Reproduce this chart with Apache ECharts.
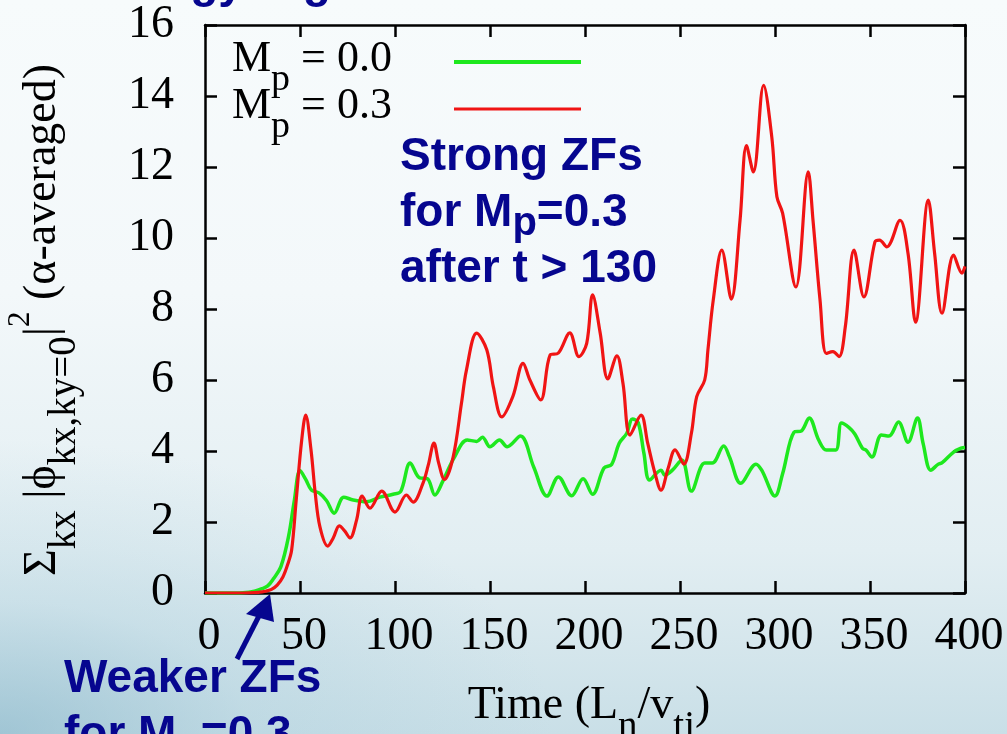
<!DOCTYPE html>
<html>
<head>
<meta charset="utf-8">
<script src="https://cdn.jsdelivr.net/npm/echarts@6/dist/echarts.min.js"></script>
<style>
  html, body { margin: 0; padding: 0; }
  #chart {
    width: 1007px; height: 734px;
    background:
      radial-gradient(ellipse 55% 40% at 0% 100%, rgba(120,172,194,0.50) 0%, rgba(160,200,216,0.28) 45%, rgba(255,255,255,0) 100%),
      linear-gradient(to bottom, #f7fbfc 0%, #f3f8fa 40%, #e2eef2 75%, #c9dfe7 100%);
  }
</style>
</head>
<body>
<div id="chart"></div>
<script>
// Zonal-flow energy vs time for two values of M_p
const timeMp00 = [0, 10, 20, 26, 30, 33, 36, 40, 44, 47, 50, 53, 56, 60, 64, 68, 73, 78, 85, 92, 99, 103, 108, 113, 117, 121, 125, 131, 138, 143, 146, 150, 155, 159, 166, 173, 180, 186, 193, 199, 204, 210, 214, 218, 222, 225, 228, 231, 234, 240, 242, 246, 251, 256, 263, 267, 273, 276, 282, 290, 293, 300, 304, 310, 314, 318, 323, 327, 332, 335, 339, 342, 346, 348, 351, 356, 360, 365, 370, 375, 378, 382, 386, 388, 394, 398, 400];
const energyMp00 = [0, 0, 0.01, 0.05, 0.12, 0.2, 0.4, 0.75, 1.6, 2.6, 3.45, 3.2, 2.9, 2.82, 2.6, 2.25, 2.7, 2.62, 2.57, 2.7, 2.78, 2.86, 3.66, 3.24, 3.22, 2.76, 3.13, 3.8, 4.31, 4.27, 4.39, 4.12, 4.31, 4.12, 4.42, 3.55, 2.73, 3.27, 2.74, 3.22, 2.78, 3.52, 3.62, 4.22, 4.5, 4.9, 4.8, 3.94, 3.18, 3.46, 3.32, 3.46, 3.75, 2.87, 3.66, 3.66, 4.14, 3.84, 3.09, 3.63, 3.46, 2.73, 3.36, 4.53, 4.57, 4.93, 4.31, 4.03, 4.03, 4.79, 4.66, 4.48, 4.08, 4.02, 3.83, 4.45, 4.42, 4.82, 4.25, 4.93, 4.2, 3.46, 3.63, 3.67, 3.97, 4.08, 4.1];

const timeMp03 = [0, 10, 20, 28, 32, 35, 38, 41, 43.5, 45.6, 48, 50.9, 53, 55.8, 58, 60.5, 64.6, 67.5, 70.7, 73.5, 76.3, 79.8, 82.7, 86.8, 93, 100, 106, 109.5, 114.7, 117.5, 120.5, 123, 126, 130.6, 135, 137.6, 143, 148.3, 151.8, 156.2, 162, 167.4, 171, 176.7, 181.6, 186, 192, 196.8, 200.9, 204, 208, 212, 216.8, 220, 223.7, 229.5, 233, 236.8, 240, 243.8, 247.4, 252, 256, 258.8, 263, 264.7, 267.5, 272, 277, 281.6, 285, 288.6, 294, 298.3, 301, 304, 311, 317.5, 320, 323.7, 327, 330.5, 333.7, 337, 341.6, 346.8, 352.6, 355, 358.8, 365.8, 370, 374, 380.7, 384, 387.9, 394, 398.4, 400];
const energyMp03 = [0, 0, 0, 0.02, 0.05, 0.1, 0.22, 0.45, 0.8, 1.21, 2.62, 4.31, 5.01, 4.03, 2.82, 1.86, 1.32, 1.55, 1.89, 1.75, 1.55, 2.06, 2.73, 2.39, 2.87, 2.28, 2.76, 2.56, 3.09, 3.6, 4.22, 3.66, 3.2, 3.83, 5.35, 6.28, 7.32, 6.85, 5.8, 4.96, 5.53, 6.47, 6.0, 5.44, 6.7, 6.76, 7.33, 6.66, 7.03, 8.4, 7.32, 6.03, 6.68, 5.9, 4.45, 5.01, 4.22, 3.38, 2.9, 3.52, 4.03, 3.63, 4.5, 5.53, 6.0, 6.85, 8.25, 9.66, 8.28, 10.5, 12.6, 11.86, 14.3, 12.85, 11.16, 10.7, 8.62, 11.86, 10.5, 8.25, 6.75, 6.8, 6.66, 7.5, 9.66, 8.34, 9.89, 9.94, 9.75, 10.5, 9.57, 7.63, 11.07, 9.57, 7.88, 9.52, 9.01, 9.2];

const legendValues = ['0.0', '0.3'];
const seriesColors = ['#1ee81e', '#f01414'];

const SERIF = 'Liberation Serif, Times New Roman, serif';
const SANS = 'Liberation Sans, Arial, sans-serif';
const NAVY = '#06068f';

const zip = (t, v) => t.map((x, i) => [x, v[i]]);

const chart = echarts.init(document.getElementById('chart'), null, { renderer: 'canvas' });

const frameLine = { show: true, onZero: false, lineStyle: { color: '#000', width: 2.5 } };
const innerTick = { show: true, inside: true, length: 12, lineStyle: { color: '#000', width: 2.5 } };
const tickFont = { fontFamily: SERIF, fontSize: 46, color: '#000' };

// subscript / superscript helpers for rich text
const serifRich = {
  m: { fontFamily: SERIF, fontSize: 46, lineHeight: 54, fill: '#000', color: '#000' },
  s: { fontFamily: SERIF, fontSize: 39, height: 10, lineHeight: 10, verticalAlign: 'bottom', fill: '#000', color: '#000' },
  u: { fontFamily: SERIF, fontSize: 31, height: 10, lineHeight: 10, verticalAlign: 'top', fill: '#000', color: '#000' }
};
const legendRich = {
  m: { fontFamily: SERIF, fontSize: 44, lineHeight: 52, fill: '#000', color: '#000' },
  s: { fontFamily: SERIF, fontSize: 38, height: 10, lineHeight: 10, verticalAlign: 'bottom', fill: '#000', color: '#000' }
};
const sansRich = {
  b: { fontFamily: SANS, fontWeight: 'bold', fontSize: 46, lineHeight: 56, fill: NAVY, color: NAVY },
  bs: { fontFamily: SANS, fontWeight: 'bold', fontSize: 40, height: 34, lineHeight: 34, verticalAlign: 'bottom', fill: NAVY, color: NAVY }
};

const option = {
  animation: false,
  backgroundColor: 'transparent',
  grid: { left: 205, right: 42, top: 25, bottom: 141, containLabel: false },
  xAxis: [
    {
      type: 'value', position: 'bottom', min: 0, max: 400, interval: 50,
      axisLine: frameLine, axisTick: innerTick, splitLine: { show: false },
      axisLabel: Object.assign({ margin: 21, padding: [0, 0, 0, 8] }, tickFont)
    },
    {
      type: 'value', position: 'top', min: 0, max: 400, interval: 50,
      axisLine: frameLine, axisTick: innerTick, splitLine: { show: false },
      axisLabel: { show: false }
    }
  ],
  yAxis: [
    {
      type: 'value', position: 'left', min: 0, max: 16, interval: 2,
      axisLine: frameLine, axisTick: innerTick, splitLine: { show: false },
      axisLabel: Object.assign({ margin: 31 }, tickFont)
    },
    {
      type: 'value', position: 'right', min: 0, max: 16, interval: 2,
      axisLine: frameLine, axisTick: innerTick, splitLine: { show: false },
      axisLabel: { show: false }
    }
  ],
  series: [
    {
      name: 'M_p = ' + legendValues[0], type: 'line', showSymbol: false, smooth: 0.35,
      lineStyle: { color: seriesColors[0], width: 3.5 },
      data: zip(timeMp00, energyMp00), z: 3
    },
    {
      name: 'M_p = ' + legendValues[1], type: 'line', showSymbol: false, smooth: 0.35,
      lineStyle: { color: seriesColors[1], width: 3.2 },
      data: zip(timeMp03, energyMp03), z: 4
    }
  ],
  graphic: [
    // slide heading (mostly above the visible area)
    {
      type: 'text', x: 19, y: -16,
      style: { text: 'ZF Energy Higher', fontFamily: SANS, fontWeight: 'bold', fontSize: 46, fill: NAVY, align: 'left', verticalAlign: 'middle' }
    },
    // key
    {
      type: 'text', x: 232, y: 33,
      style: { text: '{m|M}{s|p}{m| = ' + legendValues[0] + '}', rich: legendRich, align: 'left', verticalAlign: 'top' }
    },
    {
      type: 'text', x: 232, y: 80,
      style: { text: '{m|M}{s|p}{m| = ' + legendValues[1] + '}', rich: legendRich, align: 'left', verticalAlign: 'top' }
    },
    { type: 'line', shape: { x1: 454, y1: 62, x2: 581, y2: 62 }, style: { stroke: seriesColors[0], lineWidth: 4 } },
    { type: 'line', shape: { x1: 454, y1: 109, x2: 581, y2: 109 }, style: { stroke: seriesColors[1], lineWidth: 3 } },
    // y axis title
    {
      type: 'text', x: 43, y: 320, rotation: Math.PI / 2,
      style: {
        text: '{m|Σ}{s|kx}{m| |ϕ}{s|kx,ky=0}{m||}{u|2}{m| (α-averaged)}',
        rich: serifRich, align: 'center', verticalAlign: 'middle'
      }
    },
    // x axis title
    {
      type: 'text', x: 589, y: 679,
      style: {
        text: '{m|Time (L}{s|n}{m|/v}{s|ti}{m|)}',
        rich: serifRich, align: 'center', verticalAlign: 'top'
      }
    },
    // annotations
    {
      type: 'text', x: 400, y: 129,
      style: {
        text: '{b|Strong ZFs}\n{b|for M}{bs|p}{b|=0.3}\n{b|after t > 130}',
        rich: sansRich, align: 'left', verticalAlign: 'top'
      }
    },
    {
      type: 'text', x: 64, y: 651,
      style: {
        text: '{b|Weaker ZFs}\n{b|for M}{bs|p}{b|=0.3}',
        rich: sansRich, align: 'left', verticalAlign: 'top'
      }
    },
    { type: 'line', shape: { x1: 237, y1: 659, x2: 261, y2: 612 }, style: { stroke: NAVY, lineWidth: 5 } },
    { type: 'polygon', shape: { points: [[270, 594], [246, 614], [274, 622]] }, style: { fill: NAVY } }
  ]
};

chart.setOption(option);
</script>
</body>
</html>
